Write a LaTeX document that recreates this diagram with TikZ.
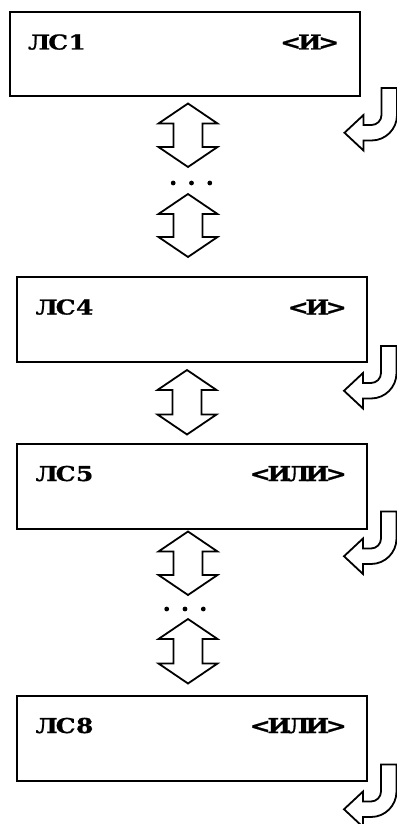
\documentclass[tikz,border=0pt]{standalone}
\usepackage{fontspec}
\newfontfamily\lsfont{DejaVu Serif}[FakeStretch=1.22, FakeBold=0.8]
\usetikzlibrary{calc}
% every letter in a cell of its own, as in a typewriter face
\newcommand{\cells}[1]{\cellsloop#1\relax}
\newcommand{\cellsloop}[1]{\ifx\relax#1\else\makebox[19pt]{#1}\expandafter\cellsloop\fi}
\newcommand{\biarrow}[2]{%
  \draw[hollow] let \p1=#1, \p2=#2 in
    (\p1) -- (\x1+29.5pt,\y1-20pt) -- (\x1+14.5pt,\y1-20pt) -- (\x1+14.5pt,\y2+20pt)
    -- (\x1+29.5pt,\y2+20pt) -- (\x1,\y2) -- (\x1-29.5pt,\y2+20pt) -- (\x1-14.5pt,\y2+20pt)
    -- (\x1-14.5pt,\y1-20pt) -- (\x1-29.5pt,\y1-20pt) -- cycle;}
\tikzset{
  unit/.style={draw, line width=2pt, minimum width=350pt, minimum height=85pt, inner sep=0pt},
  unitname/.style={anchor=base west, inner sep=0pt, font=\lsfont\bfseries\fontsize{20.5pt}{23pt}\selectfont},
  unitop/.style={anchor=base east, inner sep=0pt, font=\lsfont\bfseries\fontsize{20.5pt}{23pt}\selectfont},
  hollow/.style={draw, line width=1.8pt, line join=miter, fill=white},
  turn/.pic={
    \draw[hollow] (0,0) -- (0,27) arc (0:90:10) -- (-18,37) -- (-18,27) -- (-37,44.75)
      -- (-18,62.5) -- (-18,52.5) -- (-10,52.5) arc (90:0:25.5) -- (15.5,0) -- cycle;
  }
}

\begin{document}
\begin{tikzpicture}[x=1pt,y=-1pt]
  \useasboundingbox (0,0) rectangle (396,824);

  \node[unit, minimum height=84pt] (ls1) at (184.5,54) {};
  \node[unitname] (ls1name) at ($(ls1.north west)+(21,38.5)$) {\cells{ЛС1}};
  \node[unitop] (ls1op) at ($(ls1.north east)+(-22,38.5)$) {\cells{<И>}};

  \node[unit] (ls4) at (192,319.5) {};
  \node[unitname] (ls4name) at ($(ls4.north west)+(21,38.5)$) {\cells{ЛС4}};
  \node[unitop] (ls4op) at ($(ls4.north east)+(-22,38.5)$) {\cells{<И>}};

  \node[unit] (ls5) at (192,486) {};
  \node[unitname] (ls5name) at ($(ls5.north west)+(21,38.5)$) {\cells{ЛС5}};
  \node[unitop] (ls5op) at ($(ls5.north east)+(-22,38.5)$) {\cells{<ИЛИ>}};

  \node[unit] (ls8) at (192,738) {};
  \node[unitname] (ls8name) at ($(ls8.north west)+(21,38.5)$) {\cells{ЛС8}};
  \node[unitop] (ls8op) at ($(ls8.north east)+(-22,38.5)$) {\cells{<ИЛИ>}};

  % skipped units
  \coordinate (dots1) at (191.5,183);
  \coordinate (dots2) at (185,609);
  \foreach \dx in {-18.3,0,18.3} {
    \fill ($(dots1)+(\dx,0)$) circle (2.4);
    \fill ($(dots2)+(\dx,0)$) circle (2.4);
  }

  \biarrow{($(ls1.south)+(3.5,6.5)$)}{($(dots1)+(0,-16)$)}
  \biarrow{($(dots1)+(-3.5,11)$)}{($(ls4.north)+(0,-19)$)}
  \biarrow{($(ls4.south)+(-5,7)$)}{($(ls5.north)+(0,-8)$)}
  \biarrow{($(ls5.south)+(-4,2)$)}{($(dots2)+(0,-14)$)}
  \biarrow{($(dots2)+(3,10)$)}{($(ls8.north)+(0,-11)$)}

  \pic at ($(ls1.south east)+(21,-9)$) {turn};
  \pic at ($(ls4.south east)+(13,-17)$) {turn};
  \pic at ($(ls5.south east)+(13,-18)$) {turn};
  \pic at ($(ls8.south east)+(13,-17)$) {turn};
\end{tikzpicture}
\end{document}
